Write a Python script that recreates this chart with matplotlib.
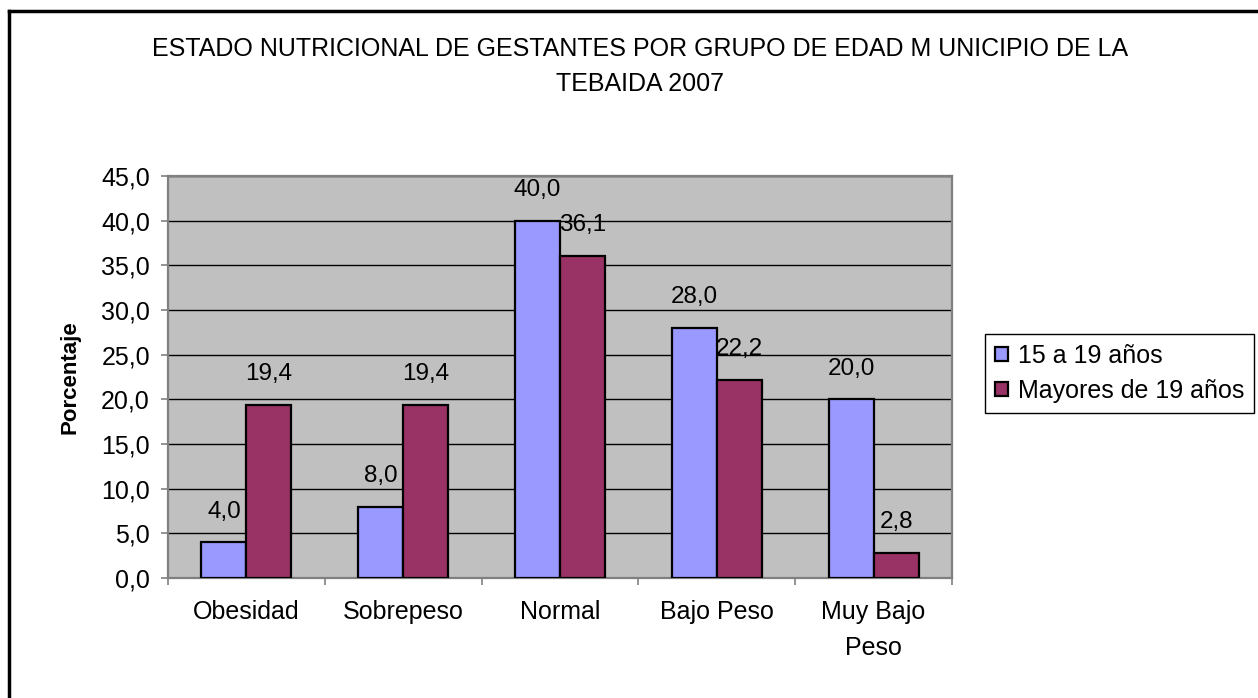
import matplotlib
matplotlib.use("Agg")
import matplotlib.pyplot as plt
from matplotlib.lines import Line2D
import numpy as np

plt.rcParams['font.family'] = ['Liberation Sans', 'DejaVu Sans']

categories = ["Obesidad", "Sobrepeso", "Normal", "Bajo Peso", "Muy Bajo\nPeso"]
series_names = ["15 a 19 años", "Mayores de 19 años"]
vals_15_19 = [4.0, 8.0, 40.0, 28.0, 20.0]
vals_mayores = [19.4, 19.4, 36.1, 22.2, 2.8]
yticks = [0, 5, 10, 15, 20, 25, 30, 35, 40, 45]
title = "ESTADO NUTRICIONAL DE GESTANTES POR GRUPO DE EDAD M UNICIPIO DE LA\nTEBAIDA 2007"
ylabel = "Porcentaje"

W, H = 1258, 698
fig = plt.figure(figsize=(W / 100, H / 100), dpi=100)
fig.patch.set_facecolor("white")

ax = fig.add_axes([168 / W, 1 - 578 / H, (952 - 168) / W, (578 - 176) / H])
ax.set_facecolor("#C0C0C0")

x = np.arange(len(categories))
bw = 0.287
b1 = ax.bar(x - bw / 2, vals_15_19, bw, color="#9999FF", edgecolor="black", linewidth=1.6, zorder=3, label=series_names[0])
b2 = ax.bar(x + bw / 2, vals_mayores, bw, color="#993366", edgecolor="black", linewidth=1.6, zorder=3, label=series_names[1])

def fmt(v):
    return f"{v:.1f}".replace(".", ",")

for bars, vals in ((b1, vals_15_19), (b2, vals_mayores)):
    for r, v in zip(bars, vals):
        ax.annotate(fmt(v), (r.get_x() + r.get_width() / 2, v), xytext=(0, 22), textcoords="offset points",
                    ha="center", va="center", fontsize=17.5, zorder=4)

ax.set_xlim(-0.5, len(categories) - 0.5)
ax.set_ylim(0, 45)
ax.set_yticks(yticks)
ax.set_yticklabels([fmt(t) for t in yticks], fontsize=18)
ax.yaxis.grid(True, color="black", linewidth=1.0, zorder=1)
ax.set_axisbelow(True)

ax.set_xticks(x)
ax.set_xticklabels(categories, fontsize=18, linespacing=1.62)
ax.set_xticks(np.arange(-0.5, len(categories), 1), minor=True)
ax.tick_params(axis="x", which="major", length=0, pad=16)
ax.tick_params(axis="x", which="minor", length=5, color="#808080", width=1.2)
ax.tick_params(axis="y", length=5, color="#808080", width=1.2, pad=8)

for s in ax.spines.values():
    s.set_color("#808080")
    s.set_linewidth(1.6)

ax.set_ylabel(ylabel, fontsize=16, fontweight="bold", labelpad=15)

fig.text(640 / W, 1 - 66.5 / H, title, ha="center", va="center", fontsize=18, linespacing=1.62)

leg = fig.legend(handles=[b1, b2], labels=series_names, loc="upper left",
                 bbox_to_anchor=(985 / W, 1 - 334 / H), fontsize=18, frameon=True,
                 fancybox=False, edgecolor="black", framealpha=1, handlelength=0.5, handleheight=0.5,
                 handletextpad=0.4, borderpad=0.4, labelspacing=0.45, borderaxespad=0)
leg.get_frame().set_linewidth(1.0)

# figure border (left and top visible)
fig.add_artist(Line2D([9 / W, 9 / W], [0, 1 - 11 / H], color="black", linewidth=2.5, transform=fig.transFigure))
fig.add_artist(Line2D([9 / W, 1], [1 - 11 / H, 1 - 11 / H], color="black", linewidth=2.5, transform=fig.transFigure))

fig.savefig("out.png", dpi=100)
